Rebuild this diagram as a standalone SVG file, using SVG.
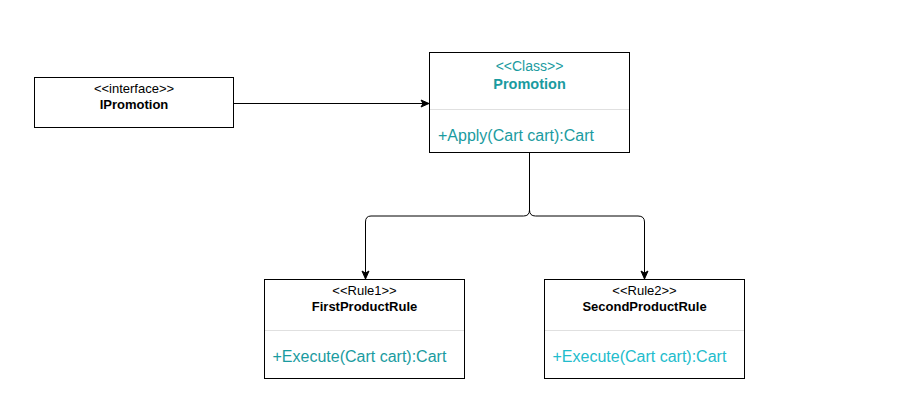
<svg xmlns="http://www.w3.org/2000/svg" width="910" height="419" viewBox="0 0 910 419">
<style>
.box{fill:#fff;stroke:#000;stroke-width:1}
.sep{stroke:#e0e0e0;stroke-width:1}
.t{font-family:"Liberation Sans",Arial,sans-serif;text-anchor:middle}
.st{font-size:13px}
.nm{font-size:13px;font-weight:bold}
.op{font-family:"Liberation Sans",Arial,sans-serif;font-size:16px}
.edge{fill:none;stroke:#000;stroke-width:1}
</style>
<defs>
<marker id="arr" markerWidth="10" markerHeight="10" refX="9" refY="5" orient="auto" markerUnits="userSpaceOnUse">
<path d="M1,1.5 L9,5 L1,8.5 L3,5 Z" fill="#000" stroke="#000" stroke-width="1"/>
</marker>
</defs>
<rect width="910" height="419" fill="#fff"/>
<g id="connectors">
<path class="edge" d="M233.5,103.5 H429" marker-end="url(#arr)"/>
<path class="edge" d="M529.5,152.5 V210 Q529.5,216 523.5,216 H371 Q365.5,216 365.5,222 V279" marker-end="url(#arr)"/>
<path class="edge" d="M529.5,210 Q529.5,216 535.5,216 H638 Q644.5,216 644.5,222 V279" marker-end="url(#arr)"/>
</g>
<g id="IPromotion">
<rect class="box" x="34.5" y="77.5" width="199" height="50"/>
<text class="t st" x="134" y="92.5">&lt;&lt;interface&gt;&gt;</text>
<text class="t nm" x="134" y="109">IPromotion</text>
</g>
<g id="Promotion">
<rect class="box" x="429.5" y="52.5" width="200" height="100" stroke="#555"/>
<line class="sep" x1="430" y1="109.5" x2="629" y2="109.5"/>
<text class="t" x="529.5" y="71" font-size="14" fill="#1a9ba0">&lt;&lt;Class&gt;&gt;</text>
<text class="t" x="529.5" y="89" font-size="14.5" font-weight="bold" fill="#1a9ba0">Promotion</text>
<text class="op" x="438" y="141" fill="#1a9ba0">+Apply(Cart cart):Cart</text>
</g>
<g id="FirstProductRule">
<rect class="box" x="264.5" y="279.5" width="200" height="99"/>
<line class="sep" x1="265" y1="330.5" x2="464" y2="330.5"/>
<text class="t st" x="364.5" y="295">&lt;&lt;Rule1&gt;&gt;</text>
<text class="t nm" x="364.5" y="311">FirstProductRule</text>
<text class="op" x="272.5" y="362" fill="#1a9ba0">+Execute(Cart cart):Cart</text>
</g>
<g id="SecondProductRule">
<rect class="box" x="544.5" y="279.5" width="200" height="99"/>
<line class="sep" x1="545" y1="330.5" x2="744" y2="330.5"/>
<text class="t st" x="644.5" y="295">&lt;&lt;Rule2&gt;&gt;</text>
<text class="t nm" x="644.5" y="311">SecondProductRule</text>
<text class="op" x="552.5" y="362" fill="#22bccc">+Execute(Cart cart):Cart</text>
</g>
</svg>
